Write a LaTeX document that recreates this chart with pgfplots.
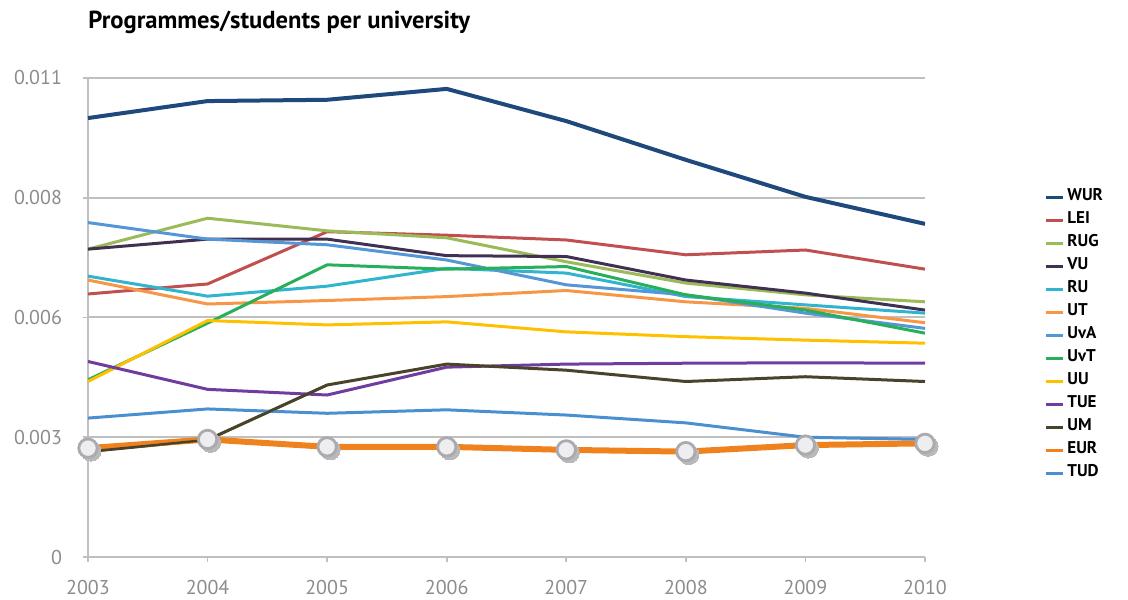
\documentclass[border=0pt]{standalone}
\usepackage{pgfplots}
\pgfplotsset{compat=1.18}
\usepackage{fontspec}
\setmainfont{PT Sans}
\definecolor{cWUR}{RGB}{31,73,125}
\definecolor{cLEI}{RGB}{192,80,77}
\definecolor{cRUG}{RGB}{155,187,89}
\definecolor{cVU}{RGB}{64,49,82}
\definecolor{cRU}{RGB}{49,180,206}
\definecolor{cUT}{RGB}{247,150,70}
\definecolor{cUvA}{RGB}{85,150,215}
\definecolor{cUvT}{RGB}{40,175,90}
\definecolor{cUU}{RGB}{255,192,0}
\definecolor{cTUE}{RGB}{112,60,160}
\definecolor{cUM}{RGB}{73,68,41}
\definecolor{cEUR}{RGB}{240,130,30}
\definecolor{cTUD}{RGB}{74,144,208}
\definecolor{tickgray}{RGB}{140,140,140}
\definecolor{gridgray}{RGB}{192,192,192}
\definecolor{shadowgray}{RGB}{185,185,185}
\definecolor{ringgray}{RGB}{170,170,175}
\definecolor{markfill}{RGB}{238,238,240}
\begin{document}
\begin{tikzpicture}
\begin{axis}[
  at={(0,0)}, anchor=south west,
  scale only axis, width=418.5pt, height=239.5pt,
  xmin=2003, xmax=2010, ymin=0, ymax=0.011,
  xtick={2003,2004,2005,2006,2007,2008,2009,2010},
  xticklabels={2003,2004,2005,2006,2007,2008,2009,2010},
  ytick={0,0.00275,0.0055,0.00825,0.011},
  yticklabels={0,0.003,0.006,0.008,0.011},
  scaled y ticks=false,
  axis lines*=left,
  axis line style={gridgray, line width=1pt},
  ymajorgrids, grid style={gridgray, line width=1pt},
  tick align=outside, major tick length=2.5pt,
  tick style={gridgray, line width=0.8pt},
  /pgf/number format/assume math mode=true,
  ticklabel style={font=\fontsize{10}{12}\selectfont, text=tickgray},
  xticklabel style={yshift=-5.5pt},
  yticklabel style={xshift=-7pt},
  title={Programmes/students per university},
  title style={at={(axis description cs:0,1)}, anchor=base west, yshift=18.5pt, inner sep=0pt, font=\fontsize{12.3}{14}\selectfont\bfseries},
  legend cell align=left,
  legend style={at={(axis description cs:1.135,0.784)}, anchor=north west, draw=none, fill=none,
    font=\fontsize{8.5}{10}\selectfont\bfseries, row sep=0pt, column sep=1.5pt,
    nodes={inner sep=0pt, text height=7.5pt, text depth=4pt}},
  legend image code/.code={\draw[#1, line width=1.5pt] (0pt,0pt) -- (8.5pt,0pt);},
  every axis plot/.append style={line width=1.5pt},
]
\addplot[cWUR, line width=2pt] coordinates {(2003,0.01008) (2004,0.01047) (2005,0.01050) (2006,0.01075) (2007,0.01001) (2008,0.00912) (2009,0.00827) (2010,0.00765)};
\addlegendentry{WUR}
\addplot[cLEI] coordinates {(2003,0.00604) (2004,0.00627) (2005,0.00747) (2006,0.00739) (2007,0.00728) (2008,0.00694) (2009,0.00705) (2010,0.00661)};
\addlegendentry{LEI}
\addplot[cRUG] coordinates {(2003,0.00707) (2004,0.00778) (2005,0.00749) (2006,0.00733) (2007,0.00678) (2008,0.00629) (2009,0.00602) (2010,0.00586)};
\addlegendentry{RUG}
\addplot[cVU] coordinates {(2003,0.00707) (2004,0.00730) (2005,0.00730) (2006,0.00692) (2007,0.00690) (2008,0.00636) (2009,0.00606) (2010,0.00567)};
\addlegendentry{VU}
\addplot[cRU] coordinates {(2003,0.00645) (2004,0.00599) (2005,0.00622) (2006,0.00663) (2007,0.00652) (2008,0.00598) (2009,0.00579) (2010,0.00560)};
\addlegendentry{RU}
\addplot[cUT] coordinates {(2003,0.00636) (2004,0.00581) (2005,0.00589) (2006,0.00598) (2007,0.00612) (2008,0.00586) (2009,0.00571) (2010,0.00538)};
\addlegendentry{UT}
\addplot[cUvA] coordinates {(2003,0.00768) (2004,0.00730) (2005,0.00717) (2006,0.00682) (2007,0.00625) (2008,0.00602) (2009,0.00560) (2010,0.00525)};
\addlegendentry{UvA}
\addplot[cUvT] coordinates {(2003,0.00407) (2004,0.00537) (2005,0.00671) (2006,0.00661) (2007,0.00667) (2008,0.00602) (2009,0.00567) (2010,0.00514)};
\addlegendentry{UvT}
\addplot[cUU] coordinates {(2003,0.00403) (2004,0.00543) (2005,0.00533) (2006,0.00540) (2007,0.00517) (2008,0.00506) (2009,0.00498) (2010,0.00491)};
\addlegendentry{UU}
\addplot[cTUE] coordinates {(2003,0.00449) (2004,0.00385) (2005,0.00372) (2006,0.00436) (2007,0.00443) (2008,0.00445) (2009,0.00446) (2010,0.00445)};
\addlegendentry{TUE}
\addplot[cUM] coordinates {(2003,0.00242) (2004,0.00269) (2005,0.00395) (2006,0.00443) (2007,0.00429) (2008,0.00403) (2009,0.00414) (2010,0.00403)};
\addlegendentry{UM}
\addplot[cEUR, line width=3pt] coordinates {(2003,0.00250) (2004,0.00270) (2005,0.00253) (2006,0.00253) (2007,0.00246) (2008,0.00242) (2009,0.00257) (2010,0.00261)};
\addlegendentry{EUR}
\addplot[cTUD] coordinates {(2003,0.00319) (2004,0.00340) (2005,0.00330) (2006,0.00338) (2007,0.00326) (2008,0.00308) (2009,0.00275) (2010,0.00270)};
\addlegendentry{TUD}
% UM redrawn over EUR where they overlap
\addplot[cUM, forget plot, line width=1.2pt] coordinates {(2003,0.00242) (2004,0.00269) (2005,0.00395)};
% marker shadows and markers on EUR
\addplot[shadowgray, forget plot, only marks, mark=*, mark size=5pt, mark options={solid, fill=shadowgray, draw=shadowgray, line width=0pt, xshift=1.5pt, yshift=-1.5pt}] coordinates {(2003,0.00250) (2004,0.00270) (2005,0.00253) (2006,0.00253) (2007,0.00246) (2008,0.00242) (2009,0.00257) (2010,0.00261)};
\addplot[ringgray, forget plot, only marks, mark=*, mark size=4.6pt, mark options={solid, fill=markfill, draw=ringgray, line width=1.4pt}] coordinates {(2003,0.00250) (2004,0.00270) (2005,0.00253) (2006,0.00253) (2007,0.00246) (2008,0.00242) (2009,0.00257) (2010,0.00261)};
\end{axis}
\pgfresetboundingbox
\path (-44pt,-21pt) rectangle (520pt,278.5pt);
\end{tikzpicture}
\end{document}
